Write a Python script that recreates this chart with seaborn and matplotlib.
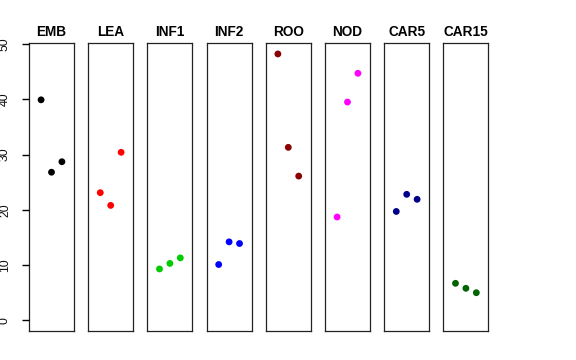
import matplotlib
matplotlib.use("Agg")
import matplotlib.pyplot as plt
import matplotlib.lines as mlines
import seaborn as sns
import pandas as pd

sns.set_style("ticks")
plt.rcParams['font.family'] = ['Liberation Sans', 'DejaVu Sans']

tissues = ["EMB", "LEA", "INF1", "INF2", "ROO", "NOD", "CAR5", "CAR15"]
colors = ["#000000", "#FF0000", "#00CD00", "#0000FF", "#8B0000", "#FF00FF", "#00008B", "#006400"]
rep1 = [39.9, 23.1, 9.3, 10.1, 48.2, 18.7, 19.7, 6.7]
rep2 = [26.8, 20.8, 10.3, 14.2, 31.3, 39.5, 22.8, 5.8]
rep3 = [28.7, 30.4, 11.3, 13.9, 26.1, 44.7, 21.9, 5.0]
yticks = [0, 10, 20, 30, 40, 50]

rows = []
for i, t in enumerate(tissues):
    for k, v in enumerate([rep1[i], rep2[i], rep3[i]]):
        rows.append({"tissue": t, "rep": k + 1, "value": v})
df = pd.DataFrame(rows)

ymax = max(df["value"].max(), 0)
ylo, yhi = 0 - 0.04 * ymax, ymax + 0.04 * ymax

fig = plt.figure(figsize=(5.76, 3.6), dpi=100)
W, H = 576, 360
left0, step, width = 29, 59.2, 45
top, bottom = 43.3, 331

axes = []
for i, t in enumerate(tissues):
    x0 = left0 + i * step
    ax = fig.add_axes([x0 / W, 1 - bottom / H, width / W, (bottom - top) / H])
    axes.append(ax)
    sub = df[df["tissue"] == t]
    sns.scatterplot(data=sub, x="rep", y="value", ax=ax, color=colors[i],
                    s=24, edgecolor="none", legend=False)
    ax.set_xlim(-0.16, 4.16)
    ax.set_ylim(ylo, yhi)
    ax.set_xticks([])
    ax.set_xlabel("")
    ax.set_ylabel("")
    ax.set_title(t, fontsize=9.8, fontweight="bold", pad=5.5, color="black")
    for sp in ax.spines.values():
        sp.set_visible(True)
        sp.set_color("#222222")
        sp.set_linewidth(0.9)
    if i == 0:
        ax.set_yticks(yticks)
        ax.set_yticklabels([str(v) for v in yticks], rotation=90, va="center",
                           fontsize=8.8, color="#111111")
        ax.tick_params(axis="y", which="major", left=True, right=False,
                       direction="out", length=0, width=0, pad=13)
    else:
        ax.set_yticks([])

# y-axis tick marks drawn as figure-level decoration, placed from the data scale
ax0 = axes[0]
fig.canvas.draw()
inv = fig.transFigure.inverted()
for v in yticks:
    px, py = ax0.transData.transform((ax0.get_xlim()[0], v))
    (fx1, fy), (fx0, _) = inv.transform([(px, py), (px - 7.4, py)])
    fig.add_artist(mlines.Line2D([fx0, fx1], [fy, fy], transform=fig.transFigure,
                                 color="black", lw=1.0, solid_capstyle="butt",
                                 zorder=20))

fig.savefig("out.png", dpi=100)
